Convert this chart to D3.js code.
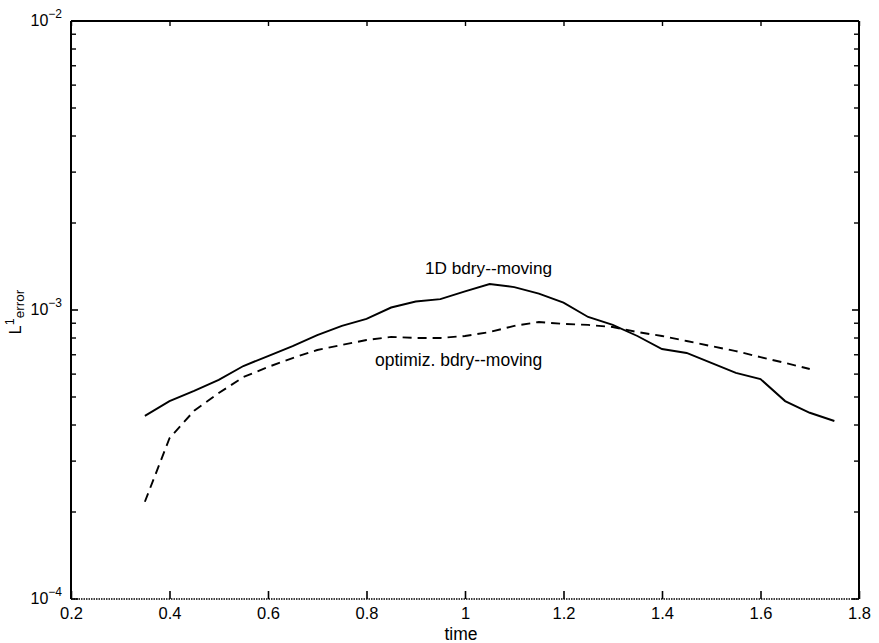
<!DOCTYPE html>
<html>
<head>
<meta charset="utf-8">
<script src="https://cdn.jsdelivr.net/npm/d3@7"></script>
<style>
  body { margin: 0; background: #fff; }
  text { font-family: "Liberation Sans", Arial, Helvetica, sans-serif; fill: #000; }
</style>
</head>
<body>
<div id="chart"></div>
<script>
// data
var times1D = [0.35, 0.4, 0.45, 0.5, 0.55, 0.6, 0.65, 0.7, 0.75, 0.8, 0.85, 0.9, 0.95, 1.0,
    1.05, 1.1, 1.15, 1.2, 1.25, 1.3, 1.35, 1.4, 1.45, 1.5, 1.55, 1.6, 1.65, 1.7, 1.75];
var err1D = [4.30e-4, 4.84e-4, 5.25e-4, 5.73e-4, 6.40e-4, 6.93e-4, 7.50e-4, 8.18e-4, 8.81e-4, 9.31e-4,
    1.02e-3, 1.07e-3, 1.09e-3, 1.16e-3, 1.23e-3, 1.20e-3, 1.14e-3, 1.06e-3, 9.46e-4, 8.88e-4,
    8.13e-4, 7.33e-4, 7.10e-4, 6.56e-4, 6.06e-4, 5.77e-4, 4.84e-4, 4.41e-4, 4.13e-4];

var timesOpt = [0.35, 0.4, 0.45, 0.5, 0.55, 0.6, 0.65, 0.7, 0.75, 0.8, 0.85, 0.9, 0.95, 1.0,
    1.05, 1.1, 1.15, 1.2, 1.25, 1.3, 1.35, 1.4, 1.45, 1.5, 1.55, 1.6, 1.65, 1.7];
var errOpt = [2.17e-4, 3.60e-4, 4.48e-4, 5.16e-4, 5.86e-4, 6.35e-4, 6.82e-4, 7.27e-4, 7.57e-4, 7.87e-4,
    8.07e-4, 8.00e-4, 8.00e-4, 8.13e-4, 8.39e-4, 8.81e-4, 9.09e-4, 8.95e-4, 8.88e-4, 8.73e-4,
    8.39e-4, 8.13e-4, 7.81e-4, 7.50e-4, 7.21e-4, 6.87e-4, 6.56e-4, 6.25e-4];

var xTicks = [0.2, 0.4, 0.6, 0.8, 1, 1.2, 1.4, 1.6, 1.8];
var yDecades = [-4, -3, -2];

var margin = { top: 21, right: 20, bottom: 44, left: 71 };
var width = 879 - margin.left - margin.right;
var height = 643 - margin.top - margin.bottom;

var svg = d3.select("#chart")
    .append("svg")
    .attr("width", 879)
    .attr("height", 643)
    .append("g")
    .attr("transform", `translate(${margin.left}, ${margin.top})`);

var x = d3.scaleLinear()
    .domain([0.2, 1.8])
    .range([0, width]);

var y = d3.scaleLog()
    .domain([1e-4, 1e-2])
    .range([height, 0]);

// minor log ticks (2..9 per decade)
var minor = [];
[-4, -3].forEach(function (k) {
    for (var m = 2; m <= 9; m++) minor.push(m * Math.pow(10, k));
});

// x axis bottom & top (inward ticks)
svg.append("g")
    .attr("transform", `translate(0, ${height})`)
    .call(d3.axisBottom(x).tickValues(xTicks).tickSize(-8).tickPadding(8)
        .tickFormat(d3.format("")))
    .call(g => g.select(".domain").remove())
    .call(g => g.selectAll(".tick line").attr("stroke-width", 1.6))
    .call(g => g.selectAll(".tick text").attr("font-size", 16.5).attr("dy", "0.72em"));

svg.append("g")
    .call(d3.axisTop(x).tickValues(xTicks).tickSize(-5).tickFormat(""))
    .call(g => g.select(".domain").remove())
    .call(g => g.selectAll(".tick line").attr("stroke-width", 1.4));

// y ticks left & right
[0, width].forEach(function (px, i) {
    var dir = i === 0 ? 1 : -1;
    var g = svg.append("g");
    g.selectAll(".maj")
        .data(yDecades.map(k => Math.pow(10, k)))
        .enter().append("line")
        .attr("x1", px).attr("x2", px + dir * 7)
        .attr("y1", d => y(d)).attr("y2", d => y(d))
        .attr("stroke", "#000").attr("stroke-width", 1.6);
    g.selectAll(".min")
        .data(minor)
        .enter().append("line")
        .attr("x1", px).attr("x2", px + dir * 5)
        .attr("y1", d => y(d)).attr("y2", d => y(d))
        .attr("stroke", "#000").attr("stroke-width", 1.4);
});

// y tick labels 10^k
var yl = svg.append("g");
yDecades.forEach(function (k) {
    var t = yl.append("text")
        .attr("x", -9)
        .attr("y", y(Math.pow(10, k)) + 5)
        .attr("text-anchor", "end")
        .attr("font-size", 16);
    t.append("tspan").text("10");
    t.append("tspan").attr("dy", -8).attr("font-size", 12).text("\u2212" + Math.abs(k));
});

// frame
svg.append("line").attr("x1", 0).attr("x2", width).attr("y1", 0).attr("y2", 0)
    .attr("stroke", "#000").attr("stroke-width", 2);
svg.append("line").attr("x1", 0).attr("x2", 0).attr("y1", 0).attr("y2", height)
    .attr("stroke", "#000").attr("stroke-width", 2);
svg.append("line").attr("x1", width).attr("x2", width).attr("y1", 0).attr("y2", height)
    .attr("stroke", "#000").attr("stroke-width", 2);
svg.append("line").attr("x1", 0).attr("x2", width).attr("y1", height).attr("y2", height)
    .attr("stroke", "#000").attr("stroke-width", 1.6).attr("stroke-dasharray", "1.5,1");

// lines
var line = d3.line()
    .x(d => x(d[0]))
    .y(d => y(d[1]));

svg.append("path")
    .datum(times1D.map((t, i) => [t, err1D[i]]))
    .attr("d", line)
    .attr("fill", "none")
    .attr("stroke", "#000")
    .attr("stroke-width", 1.9);

svg.append("path")
    .datum(timesOpt.map((t, i) => [t, errOpt[i]]))
    .attr("d", line)
    .attr("fill", "none")
    .attr("stroke", "#000")
    .attr("stroke-width", 1.9)
    .attr("stroke-dasharray", "9,6");

// annotations
svg.append("text")
    .attr("x", 354)
    .attr("y", 253)
    .attr("font-size", 17.2)
    .text("1D bdry--moving");

svg.append("text")
    .attr("x", 304)
    .attr("y", 345)
    .attr("font-size", 17.5)
    .text("optimiz. bdry--moving");

// axis titles
svg.append("text")
    .attr("x", width / 2 - 4)
    .attr("y", height + 41)
    .attr("text-anchor", "middle")
    .attr("font-size", 17.5)
    .text("time");

var yt = svg.append("text")
    .attr("transform", `translate(${-50}, ${y(1e-3) + 2}) rotate(-90)`)
    .attr("text-anchor", "middle")
    .attr("font-size", 16);
yt.append("tspan").text("L");
yt.append("tspan").attr("dy", -7).attr("font-size", 12.5).text("1");
yt.append("tspan").attr("dy", 10).attr("font-size", 13.5).text("error");
</script>
</body>
</html>
